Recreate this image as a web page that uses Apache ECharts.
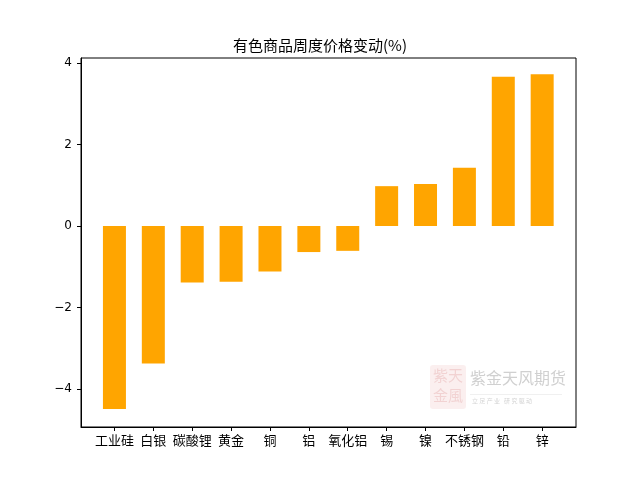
<!DOCTYPE html>
<html>
<head>
<meta charset="utf-8">
<script src="https://cdn.jsdelivr.net/npm/echarts@6/dist/echarts.min.js"></script>
<style>html,body{margin:0;padding:0;background:#fff}#c{width:640px;height:480px}</style>
</head>
<body>
<div id="c"></div>
<script>
const categories = ['工业硅','白银','碳酸锂','黄金','铜','铝','氧化铝','锡','镍','不锈钢','铅','锌'];
const values = [-4.50, -3.38, -1.39, -1.37, -1.12, -0.64, -0.61, 0.98, 1.03, 1.43, 3.67, 3.73];
const yTicks = [-4, -2, 0, 2, 4];
const titleText = '有色商品周度价格变动(%)';

const xTicks = categories.map((c, i) => i);
const cjk = '"Noto Sans CJK SC", "DejaVu Sans", sans-serif';

const chart = echarts.init(document.getElementById('c'), null, {renderer: 'canvas'});
chart.setOption({
  animation: false,
  backgroundColor: '#ffffff',
  title: {
    text: titleText, left: 'center', top: 33,
    textStyle: {fontFamily: cjk, fontSize: 15, fontWeight: 'normal', color: '#000'}
  },
  grid: {left: 81, right: 64, top: 58, bottom: 53, show: true, borderColor: '#000', borderWidth: 1, backgroundColor: 'transparent'},
  xAxis: {
    type: 'value', min: -0.86, max: 11.87,
    splitLine: {show: false},
    axisLine: {show: true, onZero: false, lineStyle: {color: '#000', width: 1}},
    axisTick: {show: true, customValues: xTicks, length: 4, lineStyle: {color: '#000'}},
    axisLabel: {
      customValues: xTicks, color: '#000', fontFamily: cjk, fontSize: 13, margin: 7,
      formatter: v => categories[Math.round(v)]
    }
  },
  yAxis: {
    type: 'value', min: -4.94, max: 4.13,
    splitLine: {show: false},
    axisLine: {show: true, onZero: false, lineStyle: {color: '#000', width: 1}},
    axisTick: {show: true, customValues: yTicks, length: 4, lineStyle: {color: '#000'}},
    axisLabel: {
      customValues: yTicks, color: '#000', fontFamily: '"DejaVu Sans", sans-serif', fontSize: 12, margin: 9,
      formatter: v => (v < 0 ? '\u2212' + Math.abs(v) : String(v))
    }
  },
  series: [{
    type: 'bar',
    data: values.map((v, i) => [i, v]),
    barWidth: 23,
    itemStyle: {color: '#ffa500'}
  }],
  graphic: [
    {type: 'rect', left: 430, top: 365, shape: {width: 36, height: 44, r: 3}, style: {fill: 'rgba(220,120,120,0.12)'}, z: 0},
    {type: 'text', left: 433, top: 368, style: {text: '紫天', font: '15px "Noto Sans CJK SC"', fill: 'rgba(210,110,110,0.22)'}, z: 0},
    {type: 'text', left: 433, top: 388, style: {text: '金風', font: '15px "Noto Sans CJK SC"', fill: 'rgba(210,110,110,0.22)'}, z: 0},
    {type: 'text', left: 470, top: 370, style: {text: '紫金天风期货', font: '16px "Noto Sans CJK SC"', fill: '#d0d0d0'}, z: 0},
    {type: 'rect', left: 470, top: 394, shape: {width: 92, height: 1}, style: {fill: '#f0f0f0'}, z: 0},
    {type: 'text', left: 472, top: 398, style: {text: '立 足 产 业   研 究 驱 动', font: '6px "Noto Sans CJK SC"', fill: '#d4d4d4'}, z: 0}
  ]
});
</script>
</body>
</html>
